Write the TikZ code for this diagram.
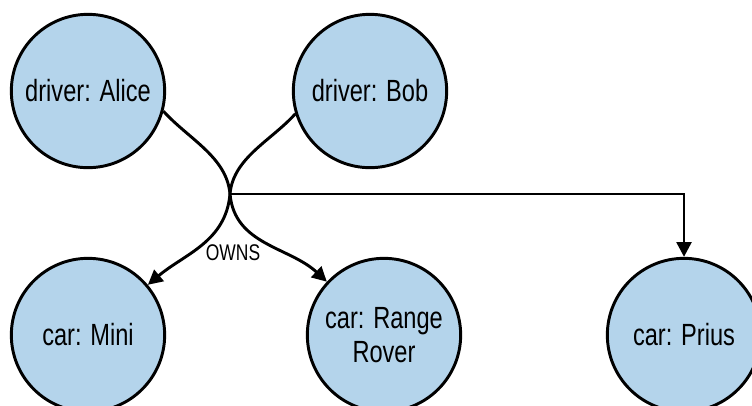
\documentclass[tikz,border=0pt]{standalone}
\usepackage{fontspec}
\setmainfont[FakeStretch=0.77]{Liberation Sans}
\usepackage{tikz}
\usetikzlibrary{arrows.meta}
\usetikzlibrary{positioning}
\definecolor{nodeblue}{RGB}{180,212,235}

\begin{document}
\begin{tikzpicture}[>={Triangle[length=11pt,width=11pt]}, node distance=183pt, line width=2.2pt]
            \tikzstyle{entity}=[circle, draw=black, fill=nodeblue, minimum size=115pt, inner sep=0pt, align=center, font=\fontsize{23}{25}\selectfont]
            \tikzstyle{rel}=[font=\fontsize{17}{19}\selectfont]

            \useasboundingbox (-66pt,68.25pt) rectangle (498pt,-235.5pt);
            \clip (-66pt,68.25pt) rectangle (498pt,-235.5pt);

            \node[entity] (alice) {driver: Alice};
            \node[entity] (bob)   [right of=alice, xshift=28.5pt] {driver: Bob};
            \node[entity] (mini)  [below of=alice] {car: Mini};
            \node[entity] (range) [right of=mini, xshift=39pt] {car: Range\\Rover};
            \node[entity] (prius) [right of=range, xshift=42pt] {car: Prius};

            \coordinate (hub) at ([shift={(106.5pt,-77.25pt)}]alice.center);
            \node[rel] (owns) at ([shift={(2.25pt,-44.25pt)}]hub) {OWNS};

            \draw[->] (alice.-15) to[out=-48, in=95, looseness=0.9] (hub) to[out=-85, in=137] (range.137);
            \draw[->] (bob.-163) to[out=-132, in=85, looseness=0.9] (hub) to[out=-95, in=40] (mini.40);
            \draw[->] (hub) -| (prius.north);
\end{tikzpicture}
\end{document}
